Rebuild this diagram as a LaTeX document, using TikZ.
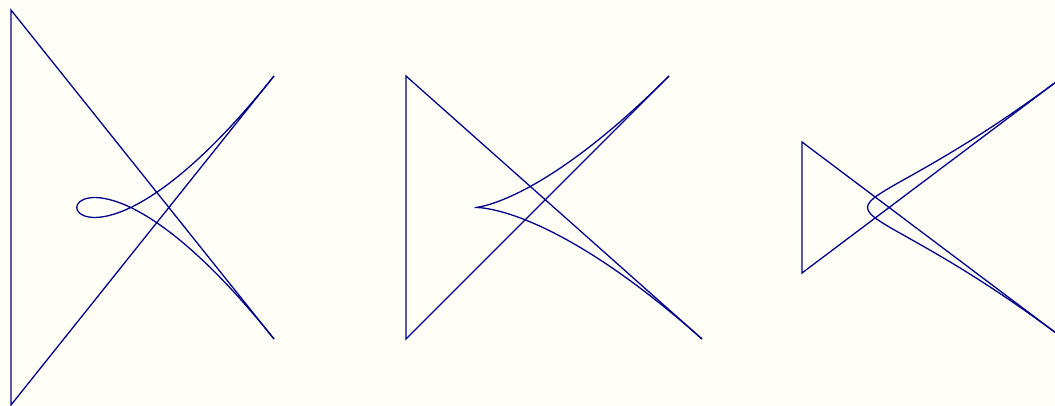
\documentclass[tikz,border=0pt]{standalone}
\definecolor{bg}{RGB}{255,255,248}
\definecolor{ink}{RGB}{0,0,139}
\begin{document}
\begin{tikzpicture}[x=1pt,y=-1pt,
  poly/.style={draw=ink,line width=1.3pt,line join=miter},
  bez/.style={draw=ink,line width=1.3pt}]
\fill[bg] (0,0) rectangle (1055,406);
\useasboundingbox (0,0) rectangle (1055,406);
\clip (0,0) rectangle (1055,406);
% figure 1: loop
\coordinate (a0) at (274,76);
\coordinate (a1) at (11,405);
\coordinate (a2) at (11,10);
\coordinate (a3) at (274,339);
\draw[poly] (a0) -- (a1) -- (a2) -- (a3);
\draw[bez] (a0) .. controls (a1) and (a2) .. (a3);
% figure 2: cusp
\coordinate (b0) at (669,76);
\coordinate (b1) at (406,339);
\coordinate (b2) at (406,76);
\coordinate (b3) at (702,339);
\draw[poly] (b0) -- (b1) -- (b2) -- (b3);
\draw[bez] (b0) .. controls (b1) and (b2) .. (b3);
% figure 3: smooth
\coordinate (c0) at (1064,76);
\coordinate (c1) at (802,273);
\coordinate (c2) at (802,142);
\coordinate (c3) at (1064,339);
\draw[poly] (c0) -- (c1) -- (c2) -- (c3);
\draw[bez] (c0) .. controls (c1) and (c2) .. (c3);
\end{tikzpicture}
\end{document}
